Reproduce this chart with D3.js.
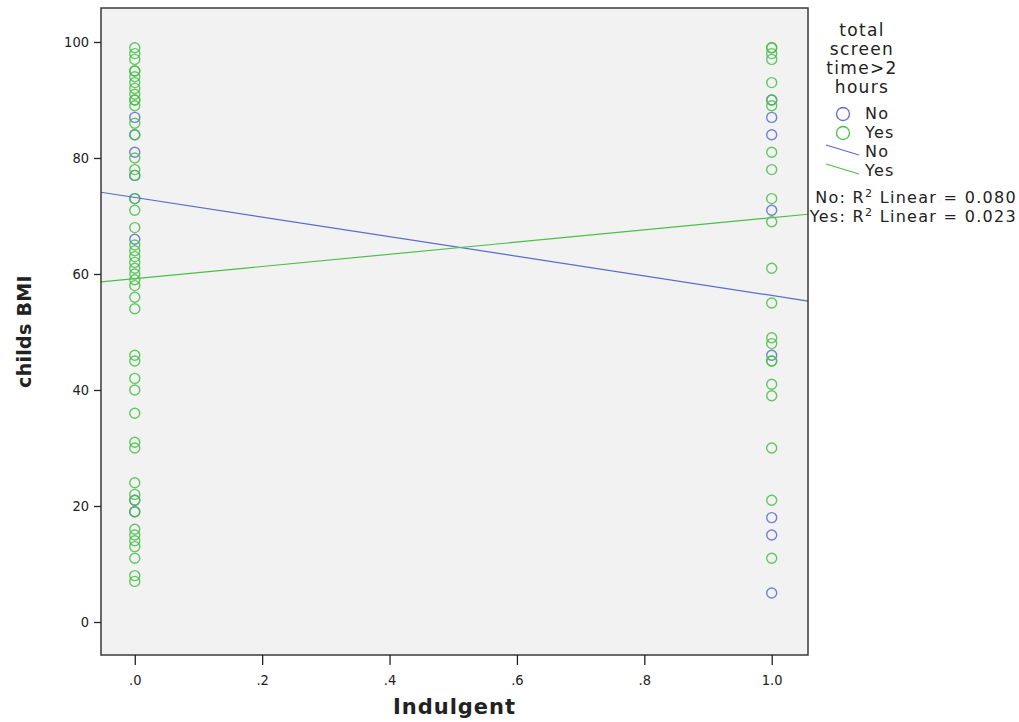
<!DOCTYPE html>
<html>
<head>
<meta charset="utf-8">
<script src="https://cdn.jsdelivr.net/npm/d3@7/dist/d3.min.js"></script>
<style>
  body { margin: 0; background: white; }
  svg { display: block; }
</style>
</head>
<body>
<svg id="chart" width="1019" height="722"></svg>
<script>
// BMI values, by group and by x (Indulgent = 0 or 1)
var noAt0 = [87, 84, 81, 77, 73, 66, 21, 19];
var noAt1 = [90, 87, 84, 71, 46, 18, 15, 5];
var yesAt0 = [99, 98, 97, 95, 95, 94, 93, 92, 91, 90, 90, 89, 86, 84, 80, 78, 77, 73,
  71, 68, 65, 64, 63, 62, 61, 60, 59, 58, 56, 54, 46, 45, 42, 40, 36, 31, 30, 24, 22,
  21, 19, 16, 15, 14, 13, 11, 8, 7];
var yesAt1 = [99, 99, 98, 97, 93, 90, 89, 81, 78, 73, 69, 61, 55, 49, 48, 45, 45, 41,
  39, 30, 21, 11];

// fit lines (intercept, slope)
var groups = ["No", "Yes"];
var fitIntercept = [73.2, 59.2];
var fitSlope = [-16.9, 10.5];
var rSquared = ["0.080", "0.023"];

var xTicks = [0, 0.2, 0.4, 0.6, 0.8, 1.0];
var yTicks = [0, 20, 40, 60, 80, 100];
var legendTitle = ["total", "screen", "time>2", "hours"];

var colors = { No: "#5b6dcc", Yes: "#49c049" };

var svg = d3.select("#chart");
const plot = { left: 101, right: 808, top: 8, bottom: 655 };

var xScale = d3.scaleLinear().domain([-0.053, 1.057]).range([plot.left, plot.right]);
var yScale = d3.scaleLinear().domain([-5.69, 105.86]).range([plot.bottom, plot.top]);

svg.append("rect")
  .attr("x", plot.left)
  .attr("y", plot.top)
  .attr("width", plot.right - plot.left)
  .attr("height", plot.bottom - plot.top)
  .attr("fill", "#f2f2f2");

// points
var points = [];
noAt0.forEach((v) => points.push({ g: "No", x: 0, y: v }));
noAt1.forEach((v) => points.push({ g: "No", x: 1, y: v }));
yesAt0.forEach((v) => points.push({ g: "Yes", x: 0, y: v }));
yesAt1.forEach((v) => points.push({ g: "Yes", x: 1, y: v }));

svg.append("g")
  .selectAll("circle")
  .data(points)
  .enter()
  .append("circle")
  .attr("cx", (d) => xScale(d.x))
  .attr("cy", (d) => yScale(d.y))
  .attr("r", 5)
  .attr("fill", "none")
  .attr("stroke", (d) => colors[d.g])
  .attr("stroke-width", 1.4)
  .attr("stroke-opacity", 0.85);

// fit lines across the whole x range
var xDom = xScale.domain();
svg.append("g")
  .selectAll("line")
  .data(groups)
  .enter()
  .append("line")
  .attr("x1", xScale(xDom[0]))
  .attr("x2", xScale(xDom[1]))
  .attr("y1", (d, i) => yScale(fitIntercept[i] + fitSlope[i] * xDom[0]))
  .attr("y2", (d, i) => yScale(fitIntercept[i] + fitSlope[i] * xDom[1]))
  .attr("stroke", (d) => colors[d])
  .attr("stroke-width", 1.2);

// frame
svg.append("rect")
  .attr("x", plot.left)
  .attr("y", plot.top)
  .attr("width", plot.right - plot.left)
  .attr("height", plot.bottom - plot.top)
  .attr("fill", "none")
  .attr("stroke", "#3a3a3a")
  .attr("stroke-width", 1.5);

var tickFont = "'DejaVu Sans Condensed', 'DejaVu Sans', sans-serif";
var titleFont = "'DejaVu Sans', sans-serif";

var xAxis = d3.axisBottom(xScale)
  .tickValues(xTicks)
  .tickSize(10)
  .tickPadding(10)
  .tickFormat((d) => (d >= 1 ? d3.format(".1f")(d) : d3.format(".1f")(d).replace(/^0/, "")));

var gx = svg.append("g")
  .attr("transform", `translate(0, ${plot.bottom})`)
  .call(xAxis);
gx.select(".domain").remove();

var yAxis = d3.axisLeft(yScale)
  .tickValues(yTicks)
  .tickSize(7)
  .tickPadding(5);

var gy = svg.append("g")
  .attr("transform", `translate(${plot.left}, 0)`)
  .call(yAxis);
gy.select(".domain").remove();

svg.selectAll(".tick line").attr("stroke", "#222").attr("stroke-width", 1.3);
svg.selectAll(".tick text")
  .style("font-family", tickFont)
  .style("font-size", "14.5px")
  .attr("fill", "#222");

// axis titles
svg.append("text")
  .attr("x", (plot.left + plot.right) / 2)
  .attr("y", 714)
  .attr("text-anchor", "middle")
  .style("font-family", titleFont)
  .style("font-weight", "bold")
  .style("font-size", "21px")
  .style("letter-spacing", "1px")
  .attr("fill", "#222")
  .text("Indulgent");

svg.append("text")
  .attr("transform", `translate(31, ${(plot.top + plot.bottom) / 2}) rotate(-90)`)
  .attr("text-anchor", "middle")
  .style("font-family", titleFont)
  .style("font-weight", "bold")
  .style("font-size", "19px")
  .style("letter-spacing", "0.3px")
  .attr("fill", "#222")
  .text("childs BMI");

// legend
var legendFont = "'DejaVu Sans', sans-serif";
var legend = svg.append("g")
  .style("font-family", legendFont)
  .style("letter-spacing", "1.3px")
  .attr("fill", "#222");

legend.selectAll(".ltitle")
  .data(legendTitle)
  .enter()
  .append("text")
  .attr("x", 862)
  .attr("y", (d, i) => 36 + i * 19)
  .attr("text-anchor", "middle")
  .style("font-size", "17px")
  .text((d) => d);

groups.forEach(function (g, i) {
  legend.append("circle")
    .attr("cx", 843)
    .attr("cy", 114 + i * 19)
    .attr("r", 6.5)
    .attr("fill", "none")
    .attr("stroke", colors[g])
    .attr("stroke-width", 1.3);
  legend.append("text")
    .attr("x", 865)
    .attr("y", 119 + i * 19)
    .style("font-size", "16px")
    .text(g);

  legend.append("line")
    .attr("x1", 826)
    .attr("y1", 145 + i * 19)
    .attr("x2", 859)
    .attr("y2", 155 + i * 19)
    .attr("stroke", colors[g])
    .attr("stroke-width", 1.2);
  legend.append("text")
    .attr("x", 865)
    .attr("y", 157 + i * 19)
    .style("font-size", "16px")
    .text(g);
});

groups.forEach(function (g, i) {
  var t = legend.append("text")
    .attr("x", 1017)
    .attr("y", 203 + i * 19)
    .attr("text-anchor", "end")
    .style("font-size", "16px");
  t.append("tspan").text(g + ": R");
  t.append("tspan").attr("dy", -6).style("font-size", "11px").text("2");
  t.append("tspan").attr("dy", 6).text(" Linear = " + rSquared[i]);
});
</script>
</body>
</html>
